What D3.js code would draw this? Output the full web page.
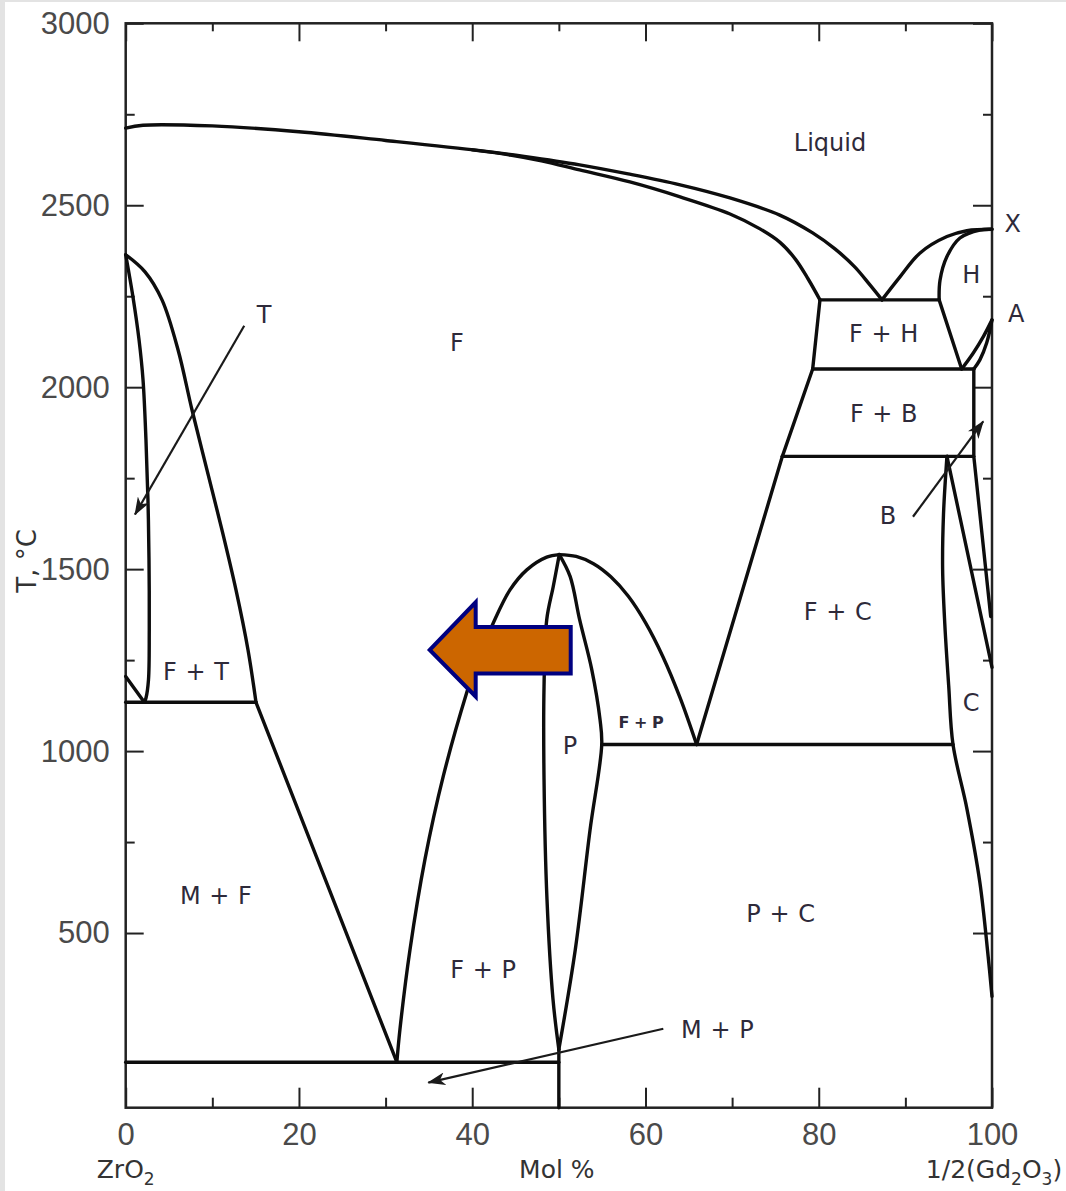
<!DOCTYPE html>
<html><head><meta charset="utf-8">
<script src="https://cdn.jsdelivr.net/npm/d3@7"></script>
<style>body{margin:0;background:#fff}svg{display:block}</style>
</head><body>
<svg id="c" width="1066" height="1191"></svg>
<script>
// ---- axis ticks ----
const xMajor = [0, 20, 40, 60, 80, 100];
const xMinor = [10, 30, 50, 70, 90];
const yMajor = [500, 1000, 1500, 2000, 2500, 3000];
const yMinor = [750, 1250, 1750, 2250, 2750];

// ---- phase boundaries (mol % 1/2Gd2O3, T in °C) ----
const liquidusF = [[0,2712],[2,2720],[10,2718],[20,2702],[30,2678],[40.9,2650],[46,2634],[52.4,2611],[58,2586],[64,2556],[69.75,2520],[75.5,2473],[79.3,2424],[81.87,2380],[84.18,2330],[85.91,2281],[87.3,2240]];
const solidusF = [[40,2652],[44.4,2638],[48,2622],[52.4,2597],[58.2,2564],[64,2523],[69.76,2476],[73.22,2435],[75.53,2398],[77.3,2352],[78.76,2298],[80.14,2240]];
const liquidusH = [[87.3,2240],[89.4,2304],[91.7,2369],[94.8,2414],[97.1,2430],[100,2434]];
const solidusH = [[93.9,2240],[94.0,2294],[94.8,2359],[96.3,2410],[98.6,2432],[100,2434]];
const eutecticFH = [[80.14,2240],[93.9,2240]];
const leftFH = [[80.14,2240],[79.3,2050]];
const rightFH = [[93.9,2240],[96.5,2050]];
const lineFB = [[79.3,2050],[97.9,2050]];
const curveA1 = [[96.5,2050],[97.84,2094],[99.0,2139],[100,2185]];
const curveA2 = [[97.9,2050],[98.6,2075],[99.39,2122],[100,2185]];
const leftFB = [[79.3,2050],[75.8,1810]];
const lineFC = [[75.8,1810],[97.9,1810]];
const rightB = [[97.9,2050],[97.9,1810],[99.85,1370]];
const rightC = [[94.8,1810],[100,1230]];
const leftC = [[94.8,1810],[94.4,1650],[94.3,1500],[94.55,1350],[95.0,1180],[95.5,1018],[97.1,842],[98.6,639],[99.55,437],[100,326]];
const leftFC = [[65.9,1018],[75.8,1810]];
const eutectoidPC = [[55.0,1018],[95.5,1018]];
const domeLeft = [[31.3,145],[31.66,236],[32.82,455],[34.55,703],[36.66,931],[39.36,1160],[40.5,1242],[42.43,1352],[44.36,1443],[46.3,1498],[48.6,1533],[50.05,1540]];
const domeRight = [[50.05,1540],[52,1535],[54,1515],[56,1479],[58,1426],[60,1353],[62,1260],[64,1146],[65.9,1018]];
const pLeft = [[50.05,1540],[49.36,1453],[48.6,1361],[48.29,1178],[48.29,922],[48.63,593],[49.32,319],[50.0,180]];
const pRight = [[50.05,1540],[51.3,1480],[52.4,1361],[53.8,1224],[54.75,1087],[54.95,1018],[53.6,783],[51.9,455],[50.0,180]];
const vert50 = [[50,180],[50,20]];
const eutectoidMP = [[0,145],[50,145]];
const lineMF = [[15.04,1134],[31.3,145]];
const lineFT = [[0,1134],[15.04,1134]];
const outerT = [[0,2364],[2.23,2317],[4.19,2240],[6.04,2103],[7.65,1938],[9.38,1773],[11.11,1608],[12.73,1443],[14.12,1278],[15.04,1134]];
const innerT = [[0,2364],[0.84,2248],[1.54,2130],[2.0,2020],[2.34,1855],[2.57,1690],[2.69,1525],[2.72,1333],[2.63,1196],[2.34,1146],[2.15,1134]];
const smallT = [[0,1205],[2.15,1134]];

const curvedLines = [liquidusF, solidusF, liquidusH, solidusH, curveA1, curveA2, leftC, domeLeft, domeRight, pLeft, pRight, outerT, innerT];
const straightLines = [eutecticFH, leftFH, rightFH, lineFB, leftFB, lineFC, rightB, rightC, leftFC, eutectoidPC, vert50, eutectoidMP, lineMF, lineFT, smallT];

// ---- region labels ----
const labelText = ["Liquid","F","T","F + T","M + F","F + P","P","F + P","P + C","M + P","F + C","C","B","F + B","F + H","H","X","A"];
const labelPos = [[81.3,2674],[38.24,2124],[15.97,2201],[8.11,1218],[10.42,603],[41.25,400],[51.3,1015],[59.5,1080],[75.6,554],[68.3,235],[82.2,1384],[97.6,1134],[88.0,1647],[87.5,1927],[87.5,2147],[97.6,2311],[102.4,2449],[102.8,2202]];
const labelSmall = [false,false,false,false,false,false,false,true,false,false,false,false,false,false,false,false,false,false];

// ---- annotation arrows ----
const arrowT = [[13.68,2169],[1.07,1650]];
const arrowB = [[90.88,1644],[98.99,1906]];
const arrowMP = [[62.06,237],[34.93,89]];
const bigArrow = [[35.1,1278],[40.4,1409],[40.4,1341],[51.37,1341],[51.37,1213],[40.4,1213],[40.4,1150]];

(function(){
const svg = d3.select("#c");
const x = d3.scaleLinear().domain([0,100]).range([125.7, 992]);
const y = d3.scaleLinear().domain([20,3000]).range([1107.7, 23.3]);

svg.append("rect").attr("x",0).attr("y",0).attr("width",1066).attr("height",1191).attr("fill","#fff");
svg.append("rect").attr("x",0).attr("y",0).attr("width",5).attr("height",1191).attr("fill","#e3e3e3");
svg.append("rect").attr("x",0).attr("y",0).attr("width",1066).attr("height",2).attr("fill","#e3e3e3");

const axisColor = "#222";
function styleAxis(g){
  g.select(".domain").remove();
  g.selectAll(".tick line").attr("stroke", axisColor).attr("stroke-width", 2);
  g.selectAll(".tick text").attr("fill","#4a4a4a").attr("font-family","'Liberation Sans', Arial, sans-serif").attr("font-size",31);
}
const yB = y.range()[0], yT = y.range()[1], xL = x.range()[0], xR = x.range()[1];
svg.append("g").attr("transform",`translate(0,${yB})`).call(d3.axisBottom(x).tickValues(xMajor).tickSize(-20).tickPadding(15).tickFormat(d3.format("d"))).call(styleAxis);
svg.append("g").attr("transform",`translate(0,${yB})`).call(d3.axisBottom(x).tickValues(xMinor).tickSize(-10).tickFormat("")).call(styleAxis);
svg.append("g").attr("transform",`translate(0,${yT})`).call(d3.axisTop(x).tickValues(xMajor).tickSize(-18).tickFormat("")).call(styleAxis);
svg.append("g").attr("transform",`translate(0,${yT})`).call(d3.axisTop(x).tickValues(xMinor).tickSize(-8).tickFormat("")).call(styleAxis);
svg.append("g").attr("transform",`translate(${xL},0)`).call(d3.axisLeft(y).tickValues(yMajor).tickSize(-18).tickPadding(16).tickFormat(d3.format("d"))).call(styleAxis);
svg.append("g").attr("transform",`translate(${xL},0)`).call(d3.axisLeft(y).tickValues(yMinor).tickSize(-9).tickFormat("")).call(styleAxis);
svg.append("g").attr("transform",`translate(${xR},0)`).call(d3.axisRight(y).tickValues(yMajor).tickSize(-19).tickFormat("")).call(styleAxis);
svg.append("g").attr("transform",`translate(${xR},0)`).call(d3.axisRight(y).tickValues(yMinor).tickSize(-9).tickFormat("")).call(styleAxis);

svg.append("rect").attr("x",xL).attr("y",yT).attr("width",xR-xL).attr("height",yB-yT)
  .attr("fill","none").attr("stroke",axisColor).attr("stroke-width",2.5);

const curveGen = d3.line().x(d=>x(d[0])).y(d=>y(d[1])).curve(d3.curveCatmullRom.alpha(0.5));
const lineGen = d3.line().x(d=>x(d[0])).y(d=>y(d[1]));
const ph = svg.append("g").attr("fill","none").attr("stroke","#0d0d0d").attr("stroke-width",3.4).attr("stroke-linejoin","round").attr("stroke-linecap","round");
ph.selectAll("path.c").data(curvedLines).join("path").attr("class","c").attr("d",curveGen);
ph.selectAll("path.s").data(straightLines).join("path").attr("class","s").attr("d",lineGen);

const defs = svg.append("defs");
defs.append("marker").attr("id","ah").attr("markerUnits","userSpaceOnUse").attr("viewBox","0 0 18 13")
  .attr("markerWidth",18).attr("markerHeight",13).attr("refX",17).attr("refY",6.5).attr("orient","auto")
  .append("path").attr("d","M0,0 L18,6.5 L0,13 L5,6.5 Z").attr("fill","#1a1a1a");
svg.append("g").selectAll("path").data([arrowT, arrowB, arrowMP]).join("path")
  .attr("d", lineGen).attr("fill","none").attr("stroke","#1a1a1a").attr("stroke-width",2.2).attr("marker-end","url(#ah)");

svg.append("path").datum(bigArrow).attr("d", d=>lineGen(d)+"Z")
  .attr("fill","#CC6600").attr("stroke","#000080").attr("stroke-width",4).attr("stroke-linejoin","miter");

const lf = "'DejaVu Sans', Verdana, sans-serif";
svg.append("g").selectAll("text").data(labelText).join("text")
  .attr("x",(d,i)=>x(labelPos[i][0])).attr("y",(d,i)=>y(labelPos[i][1]))
  .attr("dy","0.36em").attr("text-anchor","middle")
  .attr("font-family",lf)
  .attr("font-size",(d,i)=>labelSmall[i]?16:24)
  .attr("font-weight",(d,i)=>labelSmall[i]?700:400)
  .attr("word-spacing",(d,i)=>labelSmall[i]?-1:1)
  .attr("fill","#2e2a3a").text(d=>d);

const t1 = svg.append("text").attr("x",x(0)).attr("y",1178).attr("text-anchor","middle").attr("font-family",lf).attr("font-size",25).attr("fill","#333");
t1.append("tspan").text("ZrO");
t1.append("tspan").attr("font-size",17).attr("dy",7).text("2");
svg.append("text").attr("x",x(50)-2).attr("y",1178).attr("text-anchor","middle").attr("font-family",lf).attr("font-size",25).attr("fill","#333").text("Mol %");
const t3 = svg.append("text").attr("x",x(100)+2).attr("y",1178).attr("text-anchor","middle").attr("font-family",lf).attr("font-size",25).attr("fill","#333");
t3.append("tspan").text("1/2(Gd");
t3.append("tspan").attr("font-size",17).attr("dy",7).text("2");
t3.append("tspan").attr("dy",-7).text("O");
t3.append("tspan").attr("font-size",17).attr("dy",7).text("3");
t3.append("tspan").attr("dy",-7).text(")");
svg.append("text").attr("transform","translate(36,561) rotate(-90)").attr("text-anchor","middle")
  .attr("font-family",lf).attr("font-size",26).attr("fill","#333").text("T, °C");
})();
</script>
</body></html>
